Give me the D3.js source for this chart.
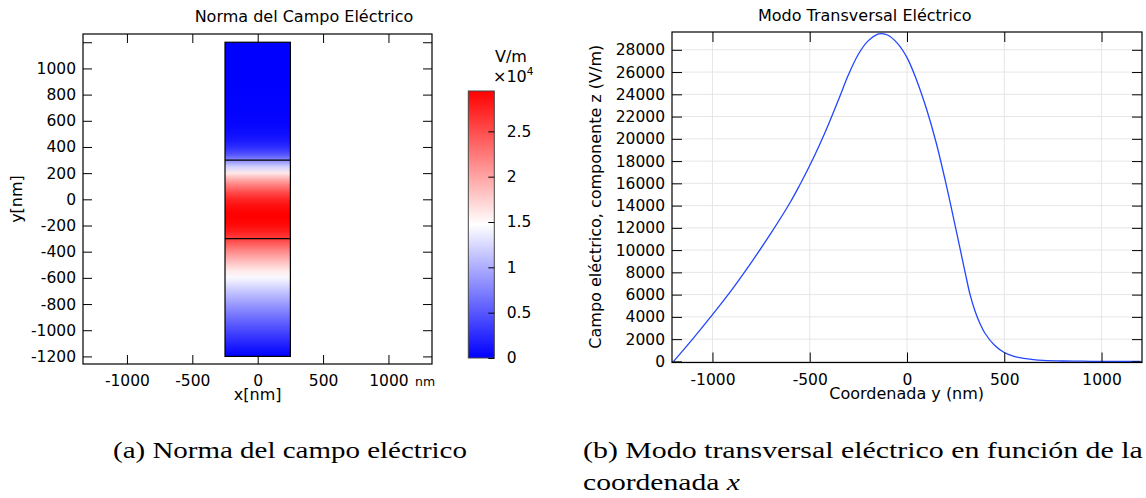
<!DOCTYPE html>
<html>
<head>
<meta charset="utf-8">
<script src="https://cdn.jsdelivr.net/npm/d3@7"></script>
<style>
  html, body { margin: 0; padding: 0; background: #fff; }
  svg { display: block; }
  text { font-family: "DejaVu Sans", sans-serif; fill: #000; }
</style>
</head>
<body>
<svg id="fig" width="1146" height="498"></svg>
<script>
// Coordenada y (nm) y componente z del campo eléctrico (V/m) del modo TE
const coordY = [-1200, -1100, -1000, -900, -800, -700, -600, -550, -500, -450,
                -400, -350, -300, -250, -200, -150, -130, -100, -50, 0,
                50, 100, 150, 200, 250, 275, 300, 325, 350, 375,
                400, 450, 500, 550, 600, 650, 700, 800, 900, 1000,
                1100, 1200];
const campoEz = [0, 2050, 4200, 6450, 8900, 11500, 14300, 15900, 17600, 19450,
                 21450, 23600, 25800, 27600, 28800, 29400, 29450, 29330, 28600, 27300,
                 25250, 22700, 19650, 16000, 12000, 9950, 7900, 5950, 4500, 3400,
                 2550, 1450, 800, 460, 265, 155, 90, 35, 15, 6,
                 3, 1];

// Geometría de la guía: límites de las capas en y y ancho en x (nm)
const capasY = [-1200, -300, 300, 1200];
const anchoX = [-250, 250];

// Marcas de los ejes
const ticksX = [-1000, -500, 0, 500, 1000];
const ticksYMapa = [-1200, -1000, -800, -600, -400, -200, 0, 200, 400, 600, 800, 1000, 1200];
const ticksYCampo = [0, 2000, 4000, 6000, 8000, 10000, 12000, 14000,
                     16000, 18000, 20000, 22000, 24000, 26000, 28000];
const ticksBarra = [0, 5000, 10000, 15000, 20000, 25000];

const svg = d3.select("#fig");
svg.append("rect").attr("width", 1146).attr("height", 498).attr("fill", "#fff");
const defs = svg.append("defs");

const eMax = d3.max(campoEz);
const mapaColor = d3.scaleLinear()
  .domain([0, eMax / 2, eMax])
  .range(["#0000ff", "#ffffff", "#ff0000"]);

const numero = d => String(d);   // "-1000", sin separador de miles

function estiloEje(g, size) {
  g.select(".domain").remove();
  g.attr("font-family", null).attr("font-size", null);
  g.selectAll("text").style("font-size", size + "px").attr("fill", "#000");
  g.selectAll("line").attr("stroke", "#000").attr("stroke-width", 1);
}

// ---------- (a) Norma del campo eléctrico ----------
const xMapa = d3.scaleLinear().domain([-1336, 1333]).range([83, 432]);
const yMapa = d3.scaleLinear().domain([-1258, 1263]).range([364, 34]);

const grad = defs.append("linearGradient")
  .attr("id", "gradCampo")
  .attr("gradientUnits", "userSpaceOnUse")
  .attr("x1", 0).attr("x2", 0)
  .attr("y1", yMapa(coordY[0]))
  .attr("y2", yMapa(coordY[coordY.length - 1]));
const y0 = coordY[0], yR = coordY[coordY.length - 1] - coordY[0];
grad.selectAll("stop").data(coordY).join("stop")
  .attr("offset", d => (d - y0) / yR)
  .attr("stop-color", (d, i) => mapaColor(campoEz[i]));

const gA = svg.append("g");
gA.append("rect")
  .attr("x", xMapa(anchoX[0]))
  .attr("y", yMapa(capasY[capasY.length - 1]))
  .attr("width", xMapa(anchoX[1]) - xMapa(anchoX[0]))
  .attr("height", yMapa(capasY[0]) - yMapa(capasY[capasY.length - 1]))
  .attr("fill", "url(#gradCampo)")
  .attr("stroke", "#000").attr("stroke-width", 1.2);
gA.selectAll("line.capa").data(capasY.slice(1, -1)).join("line")
  .attr("class", "capa")
  .attr("x1", xMapa(anchoX[0])).attr("x2", xMapa(anchoX[1]))
  .attr("y1", d => yMapa(d)).attr("y2", d => yMapa(d))
  .attr("stroke", "#000").attr("stroke-width", 1.2);

gA.append("g").attr("transform", "translate(0,364)")
  .call(d3.axisBottom(xMapa).tickValues(ticksX).tickSize(-9).tickPadding(10.5).tickFormat(numero))
  .call(g => estiloEje(g, 15.5));
gA.append("g").attr("transform", "translate(0,34)")
  .call(d3.axisTop(xMapa).tickValues(ticksX).tickSize(-9).tickFormat(""))
  .call(g => estiloEje(g, 15.5));
gA.append("g").attr("transform", "translate(83,0)")
  .call(d3.axisLeft(yMapa).tickValues(ticksYMapa).tickSize(-9).tickPadding(7)
    .tickFormat(d => d === 1200 ? "" : numero(d)))
  .call(g => estiloEje(g, 15.5));
gA.append("g").attr("transform", "translate(432,0)")
  .call(d3.axisRight(yMapa).tickValues(ticksYMapa).tickSize(-9).tickFormat(""))
  .call(g => estiloEje(g, 15.5));
gA.append("rect").attr("x", 83).attr("y", 34).attr("width", 349).attr("height", 330)
  .attr("fill", "none").attr("stroke", "#000").attr("stroke-width", 1.2);

gA.append("text").attr("x", 415).attr("y", 385.5).style("font-size", "12.5px").text("nm");
gA.append("text").attr("x", 257.7).attr("y", 400).attr("text-anchor", "middle")
  .style("font-size", "16px").text("x[nm]");
gA.append("text").attr("transform", "translate(22,199) rotate(-90)")
  .attr("text-anchor", "middle").style("font-size", "16px").text("y[nm]");
gA.append("text").attr("x", 304).attr("y", 22).attr("text-anchor", "middle")
  .style("font-size", "16px").text("Norma del Campo Eléctrico");

// Barra de color
const yBarra = d3.scaleLinear().domain([0, eMax]).range([358, 91]);
const gradB = defs.append("linearGradient")
  .attr("id", "gradBarra")
  .attr("gradientUnits", "userSpaceOnUse")
  .attr("x1", 0).attr("x2", 0)
  .attr("y1", yBarra(0)).attr("y2", yBarra(eMax));
gradB.selectAll("stop").data(mapaColor.domain()).join("stop")
  .attr("offset", d => d / eMax)
  .attr("stop-color", d => mapaColor(d));
gA.append("rect").attr("x", 468.3).attr("y", yBarra(eMax))
  .attr("width", 26).attr("height", yBarra(0) - yBarra(eMax))
  .attr("fill", "url(#gradBarra)").attr("stroke", "#444").attr("stroke-width", 1);
gA.append("g").attr("transform", "translate(494.3,0)")
  .call(d3.axisRight(yBarra).tickValues(ticksBarra).tickSize(-6).tickPadding(12.4)
    .tickFormat(d => d3.format("~g")(d / 1e4)))
  .call(g => estiloEje(g, 15.5));
gA.append("text").attr("x", 495).attr("y", 62).style("font-size", "16px").text("V/m");
const exp = gA.append("text").attr("x", 493).attr("y", 81.5).style("font-size", "16px");
exp.append("tspan").text("×10");
exp.append("tspan").attr("dy", -7).style("font-size", "10.5px").text("4");

// ---------- (b) Modo transversal eléctrico ----------
const xCampo = d3.scaleLinear().domain([-1208, 1208]).range([672, 1142]);
const yCampo = d3.scaleLinear().domain([-100, 29600]).range([362.5, 32]);

const gB = svg.append("g");
gB.append("g").selectAll("line").data(ticksX).join("line")
  .attr("x1", d => xCampo(d)).attr("x2", d => xCampo(d))
  .attr("y1", 32).attr("y2", 362.5)
  .attr("stroke", "#e6e6e6").attr("stroke-width", 1);
gB.append("g").selectAll("line").data(ticksYCampo).join("line")
  .attr("x1", 672).attr("x2", 1142)
  .attr("y1", d => yCampo(d)).attr("y2", d => yCampo(d))
  .attr("stroke", "#e6e6e6").attr("stroke-width", 1);

const puntos = coordY.map((y, i) => [y, campoEz[i]]);
gB.append("path").datum(puntos)
  .attr("d", d3.line().x(d => xCampo(d[0])).y(d => yCampo(d[1])).curve(d3.curveCatmullRom.alpha(0.5)))
  .attr("fill", "none").attr("stroke", "#2346ff").attr("stroke-width", 1.3);

gB.append("g").attr("transform", "translate(0,362.5)")
  .call(d3.axisBottom(xCampo).tickValues(ticksX).tickSize(-10).tickPadding(11).tickFormat(numero))
  .call(g => estiloEje(g, 15.5));
gB.append("g").attr("transform", "translate(0,32)")
  .call(d3.axisTop(xCampo).tickValues(ticksX).tickSize(-10).tickFormat(""))
  .call(g => estiloEje(g, 15.5));
gB.append("g").attr("transform", "translate(672,0)")
  .call(d3.axisLeft(yCampo).tickValues(ticksYCampo).tickSize(-10).tickPadding(7).tickFormat(numero))
  .call(g => estiloEje(g, 15.5));
gB.append("g").attr("transform", "translate(1142,0)")
  .call(d3.axisRight(yCampo).tickValues(ticksYCampo).tickSize(-10).tickFormat(""))
  .call(g => estiloEje(g, 15.5));
gB.append("rect").attr("x", 672).attr("y", 32).attr("width", 470).attr("height", 330.5)
  .attr("fill", "none").attr("stroke", "#000").attr("stroke-width", 1.2);

gB.append("text").attr("x", 864.7).attr("y", 21).attr("text-anchor", "middle")
  .style("font-size", "16px").text("Modo Transversal Eléctrico");
gB.append("text").attr("x", 906.7).attr("y", 399).attr("text-anchor", "middle")
  .style("font-size", "16px").text("Coordenada y (nm)");
gB.append("text").attr("transform", "translate(601,196.7) rotate(-90)")
  .attr("text-anchor", "middle").style("font-size", "16px")
  .text("Campo eléctrico, componente z (V/m)");

// ---------- Leyendas de las subfiguras ----------
const serif = '"Liberation Serif", "Times New Roman", serif';
function leyenda(x, y, ancho, partes) {
  const t = svg.append("text").style("font-family", serif).style("font-size", "22.5px");
  partes.forEach(p => t.append("tspan").style("font-style", p.it ? "italic" : "normal").text(p.s));
  const sx = ancho / t.node().getComputedTextLength();
  t.attr("transform", `translate(${x},${y}) scale(${sx},1)`);
}
leyenda(113, 457.7, 354, [{ s: "(a) Norma del campo eléctrico" }]);
leyenda(583, 457.7, 560, [{ s: "(b) Modo transversal eléctrico en función de la" }]);
leyenda(583, 490, 157, [{ s: "coordenada " }, { s: "x", it: true }]);
</script>
</body>
</html>
